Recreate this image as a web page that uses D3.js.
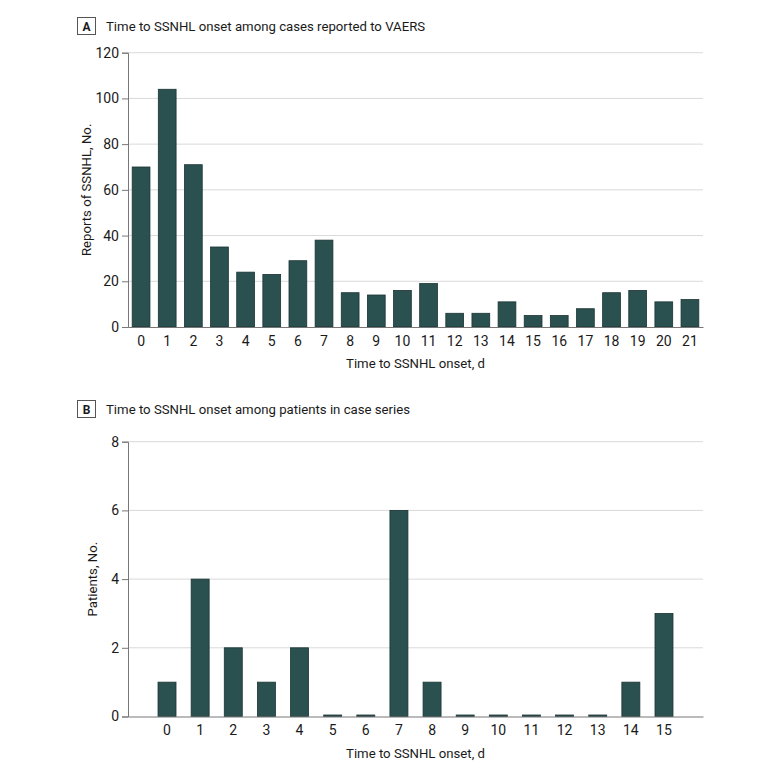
<!DOCTYPE html>
<html>
<head>
<meta charset="utf-8">
<script src="https://cdn.jsdelivr.net/npm/d3@7"></script>
<style>
  body { margin: 0; background: #fff; }
  svg text { font-family: Roboto, "Liberation Sans", sans-serif; fill: #1a1a1a; }
</style>
</head>
<body>
<svg id="chart" width="780" height="773"></svg>
<script>
// panel A: VAERS reports by day
const daysA = d3.range(0, 22);
const reportsA = [70, 104, 71, 35, 24, 23, 29, 38, 15, 14, 16, 19, 6, 6, 11, 5, 5, 8, 15, 16, 11, 12];
const ticksA = [0, 20, 40, 60, 80, 100, 120];

// panel B: case series patients by day
const daysB = d3.range(0, 16);
const patientsB = [1, 4, 2, 1, 2, 0, 0, 6, 1, 0, 0, 0, 0, 0, 1, 3];
const ticksB = [0, 2, 4, 6, 8];

const barFill = '#2a5150';
const barStroke = '#1b3332';
const svg = d3.select('#chart');

function panel(opts) {
  const g = svg.append('g');
  const left = 128, right = 703;

  // panel letter box + title
  g.append('rect')
    .attr('x', 77.5).attr('y', opts.titleY - 8.5)
    .attr('width', 18).attr('height', 17)
    .attr('fill', 'none').attr('stroke', '#555').attr('stroke-width', 1);
  g.append('text')
    .attr('x', 86.5).attr('y', opts.titleY + 4.5)
    .attr('text-anchor', 'middle')
    .attr('font-size', 12).attr('font-weight', 'bold')
    .text(opts.letter);
  g.append('text')
    .attr('x', 106).attr('y', opts.titleY + 5)
    .attr('font-size', 13.2)
    .text(opts.title);

  const x = d3.scaleBand()
    .domain(opts.days)
    .range([left, right])
    .paddingInner(opts.pi)
    .paddingOuter(opts.po);

  const y = d3.scaleLinear()
    .domain([0, d3.max(opts.ticks)])
    .range([opts.bottom, opts.top]);

  // gridlines
  g.selectAll('.grid')
    .data(opts.ticks.filter(t => t > 0))
    .enter().append('line')
    .attr('x1', left).attr('x2', right)
    .attr('y1', d => y(d)).attr('y2', d => y(d))
    .attr('stroke', '#d9d9d9').attr('stroke-width', 1);

  // bars
  g.selectAll('.bar')
    .data(opts.values)
    .enter().append('rect')
    .attr('x', (d, i) => x(opts.days[i]))
    .attr('width', x.bandwidth())
    .attr('y', d => Math.min(y(d), opts.bottom - 1.5))
    .attr('height', d => Math.max(opts.bottom - y(d), 1.5))
    .attr('fill', barFill)
    .attr('stroke', barStroke)
    .attr('stroke-width', 0.8);

  // y axis
  const yAxis = g.append('g')
    .attr('transform', `translate(${left},0)`)
    .call(d3.axisLeft(y).tickValues(opts.ticks).tickSize(6).tickPadding(3));
  yAxis.select('.domain').attr('stroke', '#777');
  yAxis.selectAll('.tick line').attr('stroke', '#777');
  yAxis.selectAll('.tick text').attr('font-size', 14).attr('fill', '#1a1a1a')
    .style('font-family', 'Roboto, "Liberation Sans", sans-serif');

  // x axis baseline + labels
  const xAxis = g.append('g')
    .attr('transform', `translate(0,${opts.bottom})`)
    .call(d3.axisBottom(x).tickSize(0).tickPadding(9));
  xAxis.select('.domain').attr('stroke', '#777');
  xAxis.selectAll('.tick text').attr('font-size', 14).attr('fill', '#1a1a1a')
    .style('font-family', 'Roboto, "Liberation Sans", sans-serif');

  g.append('text')
    .attr('x', (left + right) / 2).attr('y', opts.bottom + 41)
    .attr('text-anchor', 'middle')
    .attr('font-size', 13.2)
    .text('Time to SSNHL onset, d');

  g.append('text')
    .attr('transform', `translate(${opts.ylabX},${(opts.top + opts.bottom) / 2}) rotate(-90)`)
    .attr('text-anchor', 'middle')
    .attr('font-size', 13.2)
    .text(opts.ylabel);
}

panel({
  letter: 'A', titleY: 26,
  title: 'Time to SSNHL onset among cases reported to VAERS',
  days: daysA, values: reportsA, ticks: ticksA,
  top: 52.7, bottom: 327, pi: 0.32, po: 0.16,
  ylabX: 91, ylabel: 'Reports of SSNHL, No.'
});

panel({
  letter: 'B', titleY: 409,
  title: 'Time to SSNHL onset among patients in case series',
  days: daysB, values: patientsB, ticks: ticksB,
  top: 441.7, bottom: 716.5, pi: 0.457, po: 0.906,
  ylabX: 97, ylabel: 'Patients, No.'
});
</script>
</body>
</html>
